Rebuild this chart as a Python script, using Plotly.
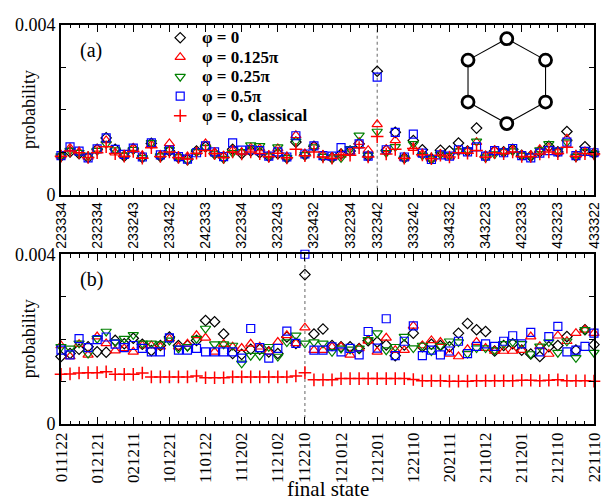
import plotly.graph_objects as go

# ---------------- data ----------------
n_states = 60
idx = list(range(n_states))

# panel (a)
ticks_a = [0, 4, 8, 12, 16, 20, 24, 28, 32, 35, 39, 43, 47, 51, 55, 59]
labels_a = ["223334", "232334", "233243", "233432", "242333", "322334", "323243", "323432",
            "332234", "332342", "333242", "334332", "343223", "423233", "432323", "433322"]
highlight_a = 35

a_phi0 = [0.00091, 0.00101, 0.00097, 0.00088, 0.00107, 0.00134, 0.00107, 0.00091, 0.00108, 0.00088,
          0.00121, 0.00090, 0.00103, 0.00088, 0.00083, 0.00103, 0.00113, 0.00097, 0.00088, 0.00107,
          0.00097, 0.00103, 0.00099, 0.00090, 0.00097, 0.00087, 0.00124, 0.00094, 0.00114, 0.00091,
          0.00087, 0.00096, 0.00103, 0.00120, 0.00091, 0.00291, 0.00105, 0.00147, 0.00087, 0.00128,
          0.00106, 0.00085, 0.00105, 0.00103, 0.00122, 0.00103, 0.00157, 0.00090, 0.00103, 0.00101,
          0.00107, 0.00093, 0.00091, 0.00101, 0.00114, 0.00101, 0.00149, 0.00091, 0.00113, 0.00097]
a_phi0125 = [0.00092, 0.00110, 0.00101, 0.00089, 0.00108, 0.00128, 0.00099, 0.00093, 0.00110, 0.00093,
             0.00118, 0.00094, 0.00121, 0.00090, 0.00090, 0.00101, 0.00121, 0.00099, 0.00092, 0.00105,
             0.00100, 0.00111, 0.00109, 0.00093, 0.00109, 0.00089, 0.00140, 0.00097, 0.00114, 0.00094,
             0.00088, 0.00094, 0.00101, 0.00124, 0.00105, 0.00166, 0.00107, 0.00128, 0.00087, 0.00110,
             0.00096, 0.00085, 0.00096, 0.00090, 0.00104, 0.00103, 0.00124, 0.00092, 0.00105, 0.00101,
             0.00105, 0.00094, 0.00093, 0.00107, 0.00111, 0.00101, 0.00132, 0.00093, 0.00102, 0.00098]
a_phi025 = [0.00091, 0.00104, 0.00099, 0.00092, 0.00104, 0.00120, 0.00105, 0.00093, 0.00106, 0.00087,
            0.00122, 0.00091, 0.00106, 0.00089, 0.00081, 0.00101, 0.00111, 0.00096, 0.00085, 0.00099,
            0.00101, 0.00117, 0.00115, 0.00091, 0.00112, 0.00087, 0.00126, 0.00094, 0.00112, 0.00090,
            0.00086, 0.00087, 0.00108, 0.00140, 0.00093, 0.00149, 0.00099, 0.00113, 0.00086, 0.00120,
            0.00093, 0.00084, 0.00095, 0.00092, 0.00103, 0.00105, 0.00126, 0.00088, 0.00096, 0.00102,
            0.00103, 0.00093, 0.00091, 0.00105, 0.00120, 0.00104, 0.00124, 0.00090, 0.00101, 0.00097]
a_phi05 = [0.00092, 0.00113, 0.00103, 0.00087, 0.00108, 0.00134, 0.00107, 0.00095, 0.00110, 0.00089,
           0.00122, 0.00094, 0.00105, 0.00090, 0.00084, 0.00099, 0.00115, 0.00101, 0.00090, 0.00122,
           0.00105, 0.00106, 0.00104, 0.00091, 0.00101, 0.00089, 0.00139, 0.00096, 0.00115, 0.00092,
           0.00091, 0.00111, 0.00103, 0.00120, 0.00091, 0.00277, 0.00106, 0.00147, 0.00089, 0.00143,
           0.00098, 0.00083, 0.00094, 0.00091, 0.00106, 0.00101, 0.00113, 0.00091, 0.00104, 0.00099,
           0.00109, 0.00092, 0.00087, 0.00098, 0.00104, 0.00101, 0.00124, 0.00092, 0.00102, 0.00099]
a_classical = [0.00091, 0.00103, 0.00099, 0.00088, 0.00099, 0.00113, 0.00097, 0.00091, 0.00102, 0.00086,
               0.00111, 0.00090, 0.00101, 0.00088, 0.00084, 0.00098, 0.00104, 0.00097, 0.00088, 0.00101,
               0.00096, 0.00101, 0.00097, 0.00090, 0.00098, 0.00087, 0.00107, 0.00092, 0.00101, 0.00089,
               0.00086, 0.00094, 0.00093, 0.00111, 0.00089, 0.00137, 0.00096, 0.00107, 0.00086, 0.00109,
               0.00094, 0.00085, 0.00093, 0.00089, 0.00099, 0.00098, 0.00104, 0.00089, 0.00099, 0.00097,
               0.00101, 0.00090, 0.00090, 0.00096, 0.00101, 0.00097, 0.00112, 0.00091, 0.00097, 0.00096]

# panel (b)
ticks_b = [0, 4, 8, 12, 16, 20, 24, 27, 31, 35, 39, 43, 47, 51, 55, 59]
labels_b = ["011122", "012121", "021211", "101221", "110122", "111202", "112102", "112210",
            "121012", "121201", "122110", "202111", "211012", "211201", "212110", "221110"]
highlight_b = 27

b_phi0 = [0.00159, 0.00166, 0.00176, 0.00182, 0.00170, 0.00169, 0.00197, 0.00189, 0.00202, 0.00188,
          0.00173, 0.00185, 0.00205, 0.00185, 0.00185, 0.00197, 0.00244, 0.00241, 0.00212, 0.00166,
          0.00164, 0.00176, 0.00176, 0.00170, 0.00166, 0.00205, 0.00190, 0.00352, 0.00212, 0.00224,
          0.00185, 0.00182, 0.00182, 0.00178, 0.00196, 0.00193, 0.00186, 0.00161, 0.00186, 0.00214,
          0.00182, 0.00188, 0.00185, 0.00182, 0.00214, 0.00237, 0.00222, 0.00218, 0.00172, 0.00185,
          0.00189, 0.00174, 0.00165, 0.00159, 0.00182, 0.00185, 0.00206, 0.00174, 0.00222, 0.00187]
b_phi0125 = [0.00185, 0.00159, 0.00188, 0.00163, 0.00206, 0.00190, 0.00173, 0.00178, 0.00170, 0.00185,
             0.00185, 0.00182, 0.00201, 0.00182, 0.00189, 0.00209, 0.00203, 0.00170, 0.00188, 0.00182,
             0.00179, 0.00189, 0.00182, 0.00170, 0.00193, 0.00209, 0.00190, 0.00227, 0.00174, 0.00174,
             0.00182, 0.00182, 0.00163, 0.00178, 0.00196, 0.00170, 0.00203, 0.00174, 0.00174, 0.00231,
             0.00185, 0.00197, 0.00193, 0.00165, 0.00159, 0.00176, 0.00193, 0.00179, 0.00172, 0.00172,
             0.00172, 0.00174, 0.00206, 0.00183, 0.00165, 0.00208, 0.00195, 0.00214, 0.00222, 0.00214]
b_phi025 = [0.00182, 0.00178, 0.00190, 0.00166, 0.00201, 0.00218, 0.00193, 0.00201, 0.00210, 0.00190,
            0.00190, 0.00188, 0.00197, 0.00178, 0.00182, 0.00201, 0.00225, 0.00188, 0.00188, 0.00185,
            0.00143, 0.00161, 0.00161, 0.00182, 0.00159, 0.00193, 0.00209, 0.00190, 0.00193, 0.00190,
            0.00170, 0.00178, 0.00176, 0.00178, 0.00198, 0.00214, 0.00174, 0.00182, 0.00206, 0.00179,
            0.00185, 0.00172, 0.00185, 0.00195, 0.00193, 0.00166, 0.00179, 0.00179, 0.00174, 0.00189,
            0.00193, 0.00189, 0.00165, 0.00183, 0.00193, 0.00168, 0.00195, 0.00156, 0.00222, 0.00168]
b_phi05 = [0.00174, 0.00163, 0.00201, 0.00180, 0.00199, 0.00205, 0.00188, 0.00180, 0.00185, 0.00178,
           0.00170, 0.00170, 0.00203, 0.00174, 0.00174, 0.00178, 0.00170, 0.00170, 0.00170, 0.00170,
           0.00155, 0.00225, 0.00180, 0.00155, 0.00178, 0.00219, 0.00190, 0.00400, 0.00174, 0.00174,
           0.00182, 0.00170, 0.00178, 0.00163, 0.00218, 0.00179, 0.00248, 0.00161, 0.00195, 0.00231,
           0.00161, 0.00174, 0.00163, 0.00172, 0.00195, 0.00166, 0.00183, 0.00189, 0.00183, 0.00195,
           0.00208, 0.00189, 0.00216, 0.00170, 0.00206, 0.00230, 0.00170, 0.00174, 0.00183, 0.00214]
b_classical = [0.00117, 0.00118, 0.00120, 0.00121, 0.00121, 0.00123, 0.00117, 0.00117, 0.00117, 0.00120,
               0.00111, 0.00111, 0.00111, 0.00111, 0.00111, 0.00113, 0.00109, 0.00109, 0.00109, 0.00111,
               0.00111, 0.00111, 0.00111, 0.00111, 0.00111, 0.00111, 0.00113, 0.00121, 0.00104, 0.00104,
               0.00104, 0.00107, 0.00107, 0.00107, 0.00107, 0.00107, 0.00107, 0.00107, 0.00107, 0.00105,
               0.00102, 0.00102, 0.00102, 0.00101, 0.00101, 0.00101, 0.00102, 0.00102, 0.00102, 0.00102,
               0.00102, 0.00103, 0.00103, 0.00102, 0.00103, 0.00104, 0.00102, 0.00102, 0.00102, 0.00101]

series_names = ["φ = 0", "φ = 0.125π", "φ = 0.25π", "φ = 0.5π", "φ = 0, classical"]
series_colors = ["#000000", "#ff0000", "#008000", "#0000ff", "#ff0000"]
series_symbols = ["diamond-open", "triangle-up-open", "triangle-down-open", "square-open", "cross-thin"]
series_sizes = [8, 9, 9, 8, 9]
series_lw = [1.2, 1.2, 1.2, 1.2, 1.5]

panel_a = [a_phi0, a_phi0125, a_phi025, a_phi05, a_classical]
panel_b = [b_phi0, b_phi0125, b_phi025, b_phi05, b_classical]

# ---------------- layout geometry (screen pixels) ----------------
OFF = 8                      # browser body margin
W, H = 611 - OFF, 504 - OFF  # figure size
ML, MR, MT, MB = 45, 8, 7, 80
plot_w = W - ML - MR
plot_h = H - MT - MB
A_TOP, A_BOT = 15, 189       # screen y of panel (a)
B_TOP, B_BOT = 250, 424      # screen y of panel (b)


def px(xs):
    return (xs - OFF - ML) / plot_w


def py(ys):
    return (H - MB - (ys - OFF)) / plot_h


fig = go.Figure()
for k in range(5):
    fig.add_trace(go.Scatter(
        x=idx, y=panel_a[k], mode="markers", name=series_names[k],
        xaxis="x", yaxis="y", cliponaxis=False, showlegend=False,
        marker=dict(symbol=series_symbols[k], size=series_sizes[k], color=series_colors[k],
                    line=dict(color=series_colors[k], width=series_lw[k]))))
for k in range(5):
    fig.add_trace(go.Scatter(
        x=idx, y=panel_b[k], mode="markers", name=series_names[k],
        xaxis="x2", yaxis="y2", cliponaxis=False, showlegend=False,
        marker=dict(symbol=series_symbols[k], size=series_sizes[k], color=series_colors[k],
                    line=dict(color=series_colors[k], width=series_lw[k]))))

# custom legend keys (on a hidden pixel-scaled overlay axis)
LEG_SYM_X, LEG_TXT_X, LEG_Y0, LEG_DY = 176, 196, 28, 20
for k in range(5):
    fig.add_trace(go.Scatter(
        x=[LEG_SYM_X], y=[LEG_Y0 + k * LEG_DY], mode="markers", xaxis="x3", yaxis="y3",
        cliponaxis=False, showlegend=False, hoverinfo="skip",
        marker=dict(symbol=series_symbols[k], size=series_sizes[k], color=series_colors[k],
                    line=dict(color=series_colors[k], width=series_lw[k]))))

serif = "Liberation Serif"
sans = "Liberation Sans"


def xaxis_cfg(tv, tt, font, anchor):
    return dict(range=[0, n_states - 1], tickmode="array", tickvals=tv, ticktext=tt,
                tickangle=-90, tickfont=dict(family=font[0], size=font[1], color="black"),
                ticks="inside", ticklen=7, tickwidth=1.2, tickcolor="black",
                minor=dict(tickvals=idx, ticks="inside", ticklen=3.5, tickwidth=1, tickcolor="black"),
                showline=True, linecolor="black", linewidth=1.6, mirror="ticks",
                showgrid=False, zeroline=False, anchor=anchor)


def yaxis_cfg(domain, anchor):
    return dict(domain=domain, range=[0, 0.004], tickmode="array", tickvals=[0, 0.004],
                ticktext=["0", "0.004"], tickfont=dict(family=serif, size=18, color="black"),
                ticks="inside", ticklen=5, tickwidth=1.2, tickcolor="black",
                minor=dict(tickvals=[0.001, 0.002, 0.003], ticks="inside", ticklen=5,
                           tickwidth=1.2, tickcolor="black"),
                showline=True, linecolor="black", linewidth=1.6, mirror="ticks",
                showgrid=False, zeroline=False, anchor=anchor)


fig.update_layout(
    width=W, height=H, margin=dict(l=ML, r=MR, t=MT, b=MB),
    paper_bgcolor="white", plot_bgcolor="white",
    xaxis=xaxis_cfg(ticks_a, labels_a, (sans, 14), "y"),
    yaxis=yaxis_cfg([py(A_BOT), py(A_TOP)], "x"),
    xaxis2=xaxis_cfg(ticks_b, labels_b, (serif, 17), "y2"),
    yaxis2=yaxis_cfg([py(B_BOT), py(B_TOP)], "x2"),
    xaxis3=dict(overlaying="x", range=[OFF + ML, OFF + W - MR], visible=False, anchor="y3",
                fixedrange=True),
    yaxis3=dict(overlaying="y", range=[A_BOT, A_TOP], visible=False, anchor="x3",
                fixedrange=True),
    showlegend=False,
)

# dotted reference lines
fig.add_shape(type="line", xref="x", yref="y domain", x0=highlight_a, x1=highlight_a, y0=0, y1=1,
              line=dict(color="#666666", width=1, dash="dot"), layer="below")
fig.add_shape(type="line", xref="x2", yref="y2 domain", x0=highlight_b, x1=highlight_b, y0=0, y1=1,
              line=dict(color="#666666", width=1, dash="dot"), layer="below")

# hexagon inset (decoration)
hex_nodes = [(513, 29), (553, 51), (553, 94), (513, 116), (473, 94), (473, 51)]
for i in range(6):
    (x0, y0), (x1, y1) = hex_nodes[i], hex_nodes[(i + 1) % 6]
    fig.add_shape(type="line", xref="paper", yref="paper", x0=px(x0), y0=py(y0), x1=px(x1), y1=py(y1),
                  line=dict(color="black", width=1.1))
for (cx, cy) in hex_nodes:
    fig.add_shape(type="circle", xref="paper", yref="paper", xsizemode="pixel", ysizemode="pixel",
                  xanchor=px(cx), yanchor=py(cy), x0=-6, x1=6, y0=-6, y1=6,
                  line=dict(color="black", width=2.8), fillcolor="white")

# legend texts
for k in range(5):
    fig.add_annotation(xref="paper", yref="paper", x=px(LEG_TXT_X), y=py(LEG_Y0 + k * LEG_DY),
                       text="<b>" + series_names[k] + "</b>", showarrow=False,
                       xanchor="left", yanchor="middle",
                       font=dict(family=serif, size=17, color="black"))

# panel labels, axis titles
for txt, yc in [("(a)", 41), ("(b)", 276)]:
    fig.add_annotation(xref="paper", yref="paper", x=px(84), y=py(yc), text=txt, showarrow=False,
                       xanchor="center", yanchor="middle", font=dict(family=serif, size=20, color="black"))
for yc in [(A_TOP + A_BOT) / 2, (B_TOP + B_BOT) / 2]:
    fig.add_annotation(xref="paper", yref="paper", x=px(20), y=py(yc), text="probability", textangle=-90,
                       showarrow=False, xanchor="center", yanchor="middle",
                       font=dict(family=serif, size=18, color="black"))
fig.add_annotation(xref="paper", yref="paper", x=px(328), y=py(491), text="final state", showarrow=False,
                   xanchor="center", yanchor="middle", font=dict(family=serif, size=21, color="black"))

fig.write_html("out.html")
